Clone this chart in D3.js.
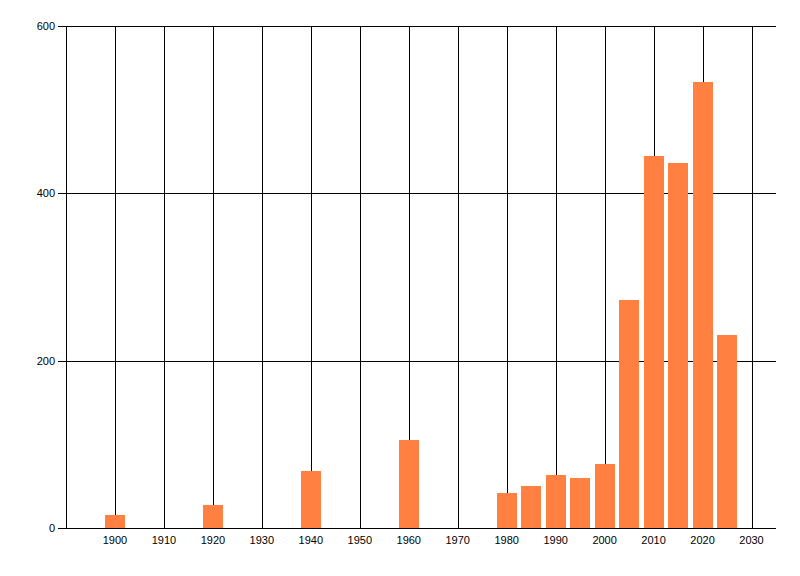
<!DOCTYPE html>
<html>
<head>
<meta charset="utf-8">
<script src="https://cdn.jsdelivr.net/npm/d3@7"></script>
<style>
  html, body { margin: 0; padding: 0; background: #fff; }
  svg { display: block; }
  text { font-family: "Liberation Sans", Arial, sans-serif; font-size: 11px; fill: #000; }
</style>
</head>
<body>
<svg id="chart" width="800" height="576"></svg>
<script>
const years = [1900, 1920, 1940, 1960, 1980, 1985, 1990, 1995, 2000, 2005, 2010, 2015, 2020, 2025];
const counts = [15, 27, 68, 105, 42, 50, 63, 60, 77, 272, 445, 436, 533, 231];
const xTicks = [1900, 1910, 1920, 1930, 1940, 1950, 1960, 1970, 1980, 1990, 2000, 2010, 2020, 2030];
const yTicks = [0, 200, 400, 600];

(function () {
const svg = d3.select("#chart");
const mLeft = 66, mRight = 776, mTop = 26, mBottom = 528;

const x = d3.scaleLinear().domain([1890, 2035]).range([mLeft, mRight]);
const y = d3.scaleLinear().domain([0, 600]).range([mBottom, mTop]);
const barW = x(1894.1) - x(1890);

// vertical grid lines at decades (including left axis)
svg.append("g").selectAll("line")
  .data([1890].concat(xTicks))
  .join("line")
  .attr("x1", d => Math.round(x(d)) + 0.5)
  .attr("x2", d => Math.round(x(d)) + 0.5)
  .attr("y1", mTop)
  .attr("y2", mBottom)
  .attr("stroke", "#000")
  .attr("stroke-width", 1);

// horizontal grid lines with left tick extension
svg.append("g").selectAll("line")
  .data(yTicks)
  .join("line")
  .attr("x1", mLeft - 8)
  .attr("x2", mRight)
  .attr("y1", d => Math.round(y(d)) + 0.5)
  .attr("y2", d => Math.round(y(d)) + 0.5)
  .attr("stroke", "#000")
  .attr("stroke-width", 1);

// bars
svg.append("g").selectAll("rect")
  .data(years.map((yr, i) => ({ yr, v: counts[i] })))
  .join("rect")
  .attr("x", d => x(d.yr) - barW / 2)
  .attr("width", barW)
  .attr("y", d => y(d.v))
  .attr("height", d => y(0) - y(d.v))
  .attr("fill", "#ff8040")
  .attr("shape-rendering", "crispEdges");

// bottom axis line drawn on top
svg.append("line")
  .attr("x1", mLeft - 8).attr("x2", mRight)
  .attr("y1", Math.round(y(0)) + 0.5).attr("y2", Math.round(y(0)) + 0.5)
  .attr("stroke", "#000");

// x labels
svg.append("g").selectAll("text")
  .data(xTicks)
  .join("text")
  .attr("x", d => x(d))
  .attr("y", 544)
  .attr("text-anchor", "middle")
  .text(d => d);

// y labels
svg.append("g").selectAll("text")
  .data(yTicks)
  .join("text")
  .attr("x", 55)
  .attr("y", d => y(d) + 4)
  .attr("text-anchor", "end")
  .text(d => d);
})();
</script>
</body>
</html>
